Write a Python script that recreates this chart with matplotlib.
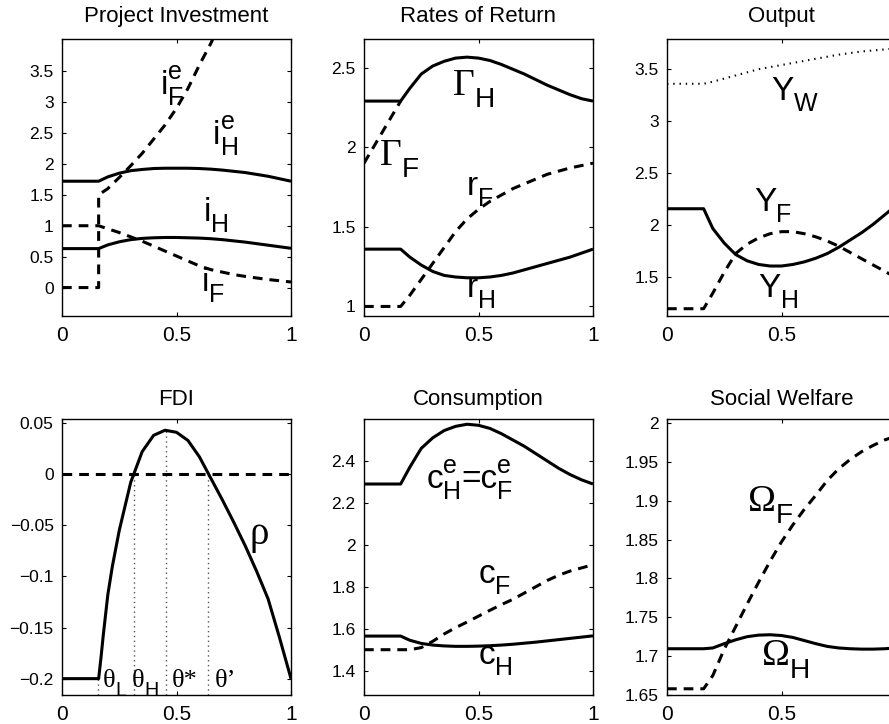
#!/usr/bin/env python3
# -*- coding: utf-8 -*-
"""
Six-panel comparative statics figure (MATLAB look):
investment, returns, output, FDI, consumption, welfare vs theta
"""

import matplotlib
matplotlib.use("Agg")
import matplotlib.pyplot as plt
from matplotlib.ticker import FixedLocator, FuncFormatter


# Common theta grid
THETA = [0.0, 0.16, 0.2, 0.25, 0.3, 0.35, 0.4, 0.45, 0.5, 0.55,
         0.6, 0.65, 0.7, 0.75, 0.8, 0.85, 0.9, 0.95, 1.0]

# Project Investment
I_HE = [1.72, 1.72, 1.79, 1.85, 1.89, 1.91, 1.925, 1.93, 1.93, 1.93,
        1.925, 1.915, 1.90, 1.88, 1.86, 1.83, 1.80, 1.76, 1.72]
I_H = [0.63, 0.63, 0.69, 0.74, 0.775, 0.795, 0.805, 0.81, 0.81, 0.805,
       0.80, 0.79, 0.775, 0.755, 0.735, 0.71, 0.685, 0.66, 0.635]
I_F = [1.0, 1.0, 0.95, 0.89, 0.82, 0.75, 0.67, 0.59, 0.51, 0.43,
       0.35, 0.29, 0.25, 0.21, 0.18, 0.155, 0.13, 0.11, 0.09]
IFE_THETA = [0.0, 0.16, 0.16, 0.2, 0.25, 0.3, 0.35, 0.4, 0.45, 0.5,
             0.55, 0.6, 0.65, 0.7]
I_FE = [0.0, 0.0, 1.5, 1.6, 1.78, 1.97, 2.17, 2.40, 2.63, 2.9,
        3.22, 3.6, 3.95, 4.35]

# Rates of Return
GAMMA_H = [2.29, 2.29, 2.37, 2.46, 2.51, 2.54, 2.56, 2.566, 2.56, 2.545,
           2.52, 2.49, 2.46, 2.425, 2.39, 2.36, 2.33, 2.305, 2.29]
GAMMA_F_THETA = [0.0, 0.16]
GAMMA_F = [1.9, 2.29]
R_F = [1.0, 1.0, 1.07, 1.17, 1.27, 1.37, 1.47, 1.55, 1.61, 1.66,
       1.70, 1.74, 1.77, 1.80, 1.83, 1.85, 1.87, 1.885, 1.90]
R_H = [1.36, 1.36, 1.31, 1.26, 1.22, 1.195, 1.185, 1.18, 1.18, 1.185,
       1.195, 1.21, 1.23, 1.25, 1.27, 1.29, 1.31, 1.335, 1.36]

# Output
Y_W = [3.36, 3.36, 3.38, 3.41, 3.44, 3.47, 3.50, 3.52, 3.54, 3.56,
       3.58, 3.60, 3.62, 3.64, 3.655, 3.67, 3.68, 3.69, 3.70]
Y_H = [2.16, 2.16, 1.97, 1.83, 1.72, 1.66, 1.625, 1.61, 1.61, 1.625,
       1.65, 1.685, 1.73, 1.79, 1.86, 1.93, 2.01, 2.10, 2.19]
Y_F = [1.2, 1.2, 1.35, 1.55, 1.73, 1.82, 1.88, 1.92, 1.94, 1.94,
       1.92, 1.89, 1.85, 1.80, 1.74, 1.68, 1.62, 1.56, 1.50]

# FDI
RHO_THETA = [0.0, 0.16, 0.17, 0.18, 0.2, 0.22, 0.25, 0.3, 0.35, 0.4, 0.45, 0.5,
             0.55, 0.6, 0.65, 0.7, 0.75, 0.8, 0.85, 0.9, 0.95, 1.0]
RHO = [-0.2, -0.2, -0.18, -0.158, -0.118, -0.09, -0.055, -0.008, 0.022, 0.038,
       0.043, 0.041, 0.033, 0.017, -0.004, -0.025, -0.047, -0.07, -0.095,
       -0.122, -0.16, -0.2]
THRESHOLDS = [0.158, 0.313, 0.453, 0.638]
THRESHOLD_TOPS = [-0.2, 0.0, 0.043, 0.0]

# Consumption
C_E = [2.29, 2.29, 2.37, 2.46, 2.51, 2.545, 2.565, 2.575, 2.57, 2.555,
       2.53, 2.50, 2.47, 2.435, 2.40, 2.365, 2.335, 2.31, 2.29]
C_F = [1.5, 1.5, 1.5, 1.51, 1.54, 1.575, 1.605, 1.632, 1.66, 1.688,
       1.715, 1.74, 1.77, 1.80, 1.83, 1.855, 1.875, 1.89, 1.905]
C_H = [1.565, 1.565, 1.545, 1.53, 1.522, 1.518, 1.516, 1.516, 1.517, 1.519,
       1.522, 1.526, 1.531, 1.536, 1.542, 1.548, 1.554, 1.56, 1.566]

# Social Welfare
OMEGA_H = [1.7095, 1.7095, 1.7105, 1.716, 1.721, 1.725, 1.727, 1.7275, 1.7265, 1.724,
           1.72, 1.716, 1.7125, 1.7105, 1.7095, 1.709, 1.709, 1.7095, 1.7105]
OMEGA_F = [1.658, 1.658, 1.675, 1.709, 1.738, 1.767, 1.795, 1.822, 1.847, 1.869,
           1.889, 1.907, 1.926, 1.941, 1.953, 1.963, 1.971, 1.978, 1.983]

X_TICKS = [0, 0.5, 1]

# Axes boxes in pixels (left, right) / (top, bottom) for a 889x724 canvas
FIG_W, FIG_H = 889, 724
COL_X = [(62, 291), (364, 593), (667, 896)]
ROW_Y = [(39, 316), (419, 695)]

SANS = 'Liberation Sans'
SERIF = 'Liberation Serif'
SOLID = dict(color='k', lw=2.2, solid_capstyle='butt')
DASHED = dict(color='k', lw=2.2, linestyle=(0, (7, 5)), dash_capstyle='butt')
LABEL_SIZE = 24
SUB_SCALE = 0.75
SUB_DROP = 0.33
SUP_RISE = 0.45


def setup_style():
    plt.rcParams['font.family'] = [SANS, 'DejaVu Sans']
    plt.rcParams['lines.scale_dashes'] = False
    plt.rcParams['axes.linewidth'] = 1.0


def fmt(v, _pos=None):
    return ('%g' % v).replace('-', '\u2212')


def make_axes(fig, col, row, title, ylim, yticks):
    x0, x1 = COL_X[col]
    y0, y1 = ROW_Y[row]
    ax = fig.add_axes([x0 / FIG_W, 1 - y1 / FIG_H, (x1 - x0) / FIG_W, (y1 - y0) / FIG_H])
    ax.set_xlim(0, 1)
    ax.set_ylim(*ylim)
    ax.xaxis.set_major_locator(FixedLocator(X_TICKS))
    ax.yaxis.set_major_locator(FixedLocator(yticks))
    if col == 2:
        # the right-hand "1" falls off the canvas in the original
        ax.xaxis.set_major_formatter(FuncFormatter(lambda v, p: '' if v == 1 else fmt(v)))
    else:
        ax.xaxis.set_major_formatter(FuncFormatter(fmt))
    ax.yaxis.set_major_formatter(FuncFormatter(fmt))
    ax.tick_params(direction='in', length=3, width=0.8, top=True, right=True)
    ax.tick_params(axis='x', labelsize=15, pad=7)
    ax.tick_params(axis='y', labelsize=12.5, pad=6)
    ax.set_title(title, fontsize=16, pad=12 if row == 0 else 10)
    return ax


def put_label(ax, x, y, parts, size=LABEL_SIZE):
    """Place base text with sub/superscripts, parts = [(base, sub, sup, family), ...]"""
    fig = ax.figure
    renderer = fig.canvas.get_renderer()
    off = 0.0
    for base, sub, sup, family in parts:
        t = ax.annotate(base, (x, y), xytext=(off, 0), textcoords='offset points',
                        fontsize=size, family=family, ha='left', va='baseline')
        off += t.get_window_extent(renderer).width * 72 / fig.dpi
        widths = [0.0]
        if sub:
            ts = ax.annotate(sub, (x, y), xytext=(off, -SUB_DROP * size),
                             textcoords='offset points', fontsize=SUB_SCALE * size,
                             family=SANS, ha='left', va='baseline')
            widths.append(ts.get_window_extent(renderer).width * 72 / fig.dpi)
        if sup:
            tp = ax.annotate(sup, (x, y), xytext=(off, SUP_RISE * size),
                             textcoords='offset points', fontsize=SUB_SCALE * size,
                             family=SANS, ha='left', va='baseline')
            widths.append(tp.get_window_extent(renderer).width * 72 / fig.dpi)
        off += max(widths)


def plot_investment(fig):
    ax = make_axes(fig, 0, 0, 'Project Investment', (-0.46, 4.02),
                   [0, 0.5, 1, 1.5, 2, 2.5, 3, 3.5])
    ax.plot(IFE_THETA, I_FE, **DASHED)
    ax.plot(THETA, I_F, **DASHED)
    ax.plot(THETA, I_HE, **SOLID)
    ax.plot(THETA, I_H, **SOLID)
    put_label(ax, 0.43, 3.13, [('i', 'F', 'e', SANS)])
    put_label(ax, 0.66, 2.32, [('i', 'H', 'e', SANS)])
    put_label(ax, 0.62, 1.08, [('i', 'H', '', SANS)])
    put_label(ax, 0.61, -0.05, [('i', 'F', '', SANS)])


def plot_returns(fig):
    ax = make_axes(fig, 1, 0, 'Rates of Return', (0.94, 2.68), [1, 1.5, 2, 2.5])
    ax.plot(GAMMA_F_THETA, GAMMA_F, **DASHED)
    ax.plot(THETA, R_F, **DASHED)
    ax.plot(THETA, GAMMA_H, **SOLID)
    ax.plot(THETA, R_H, **SOLID)
    put_label(ax, 0.39, 2.33, [('\u0393', 'H', '', SERIF)], size=27)
    put_label(ax, 0.07, 1.89, [('\u0393', 'F', '', SERIF)], size=27)
    put_label(ax, 0.45, 1.70, [('r', 'F', '', SANS)])
    put_label(ax, 0.45, 1.06, [('r', 'H', '', SANS)])


def plot_output(fig):
    ax = make_axes(fig, 2, 0, 'Output', (1.13, 3.79), [1.5, 2, 2.5, 3, 3.5])
    ax.plot(THETA, Y_W, color='k', lw=1.5, linestyle=(0, (1, 3.5)))
    ax.plot(THETA, Y_F, **DASHED)
    ax.plot(THETA, Y_H, **SOLID)
    put_label(ax, 0.456, 3.2, [('Y', 'W', '', SANS)])
    put_label(ax, 0.38, 2.14, [('Y', 'F', '', SANS)])
    put_label(ax, 0.40, 1.31, [('Y', 'H', '', SANS)])


def plot_fdi(fig):
    ax = make_axes(fig, 0, 1, 'FDI', (-0.216, 0.054),
                   [-0.2, -0.15, -0.1, -0.05, 0, 0.05])
    ymin = ax.get_ylim()[0]
    for th, top in zip(THRESHOLDS, THRESHOLD_TOPS):
        ax.plot([th, th], [ymin, top], color='#555555', lw=1.0,
                linestyle=(0, (1, 2.5)))
    ax.plot([0, 1], [0, 0], **DASHED)
    ax.plot(RHO_THETA, RHO, **SOLID)
    put_label(ax, 0.82, -0.068, [('\u03c1', '', '', SERIF)], size=28)
    base_y = -0.208
    put_label(ax, 0.177, base_y, [('\u03b8', 'L', '', SERIF)], size=19)
    put_label(ax, 0.306, base_y, [('\u03b8', 'H', '', SERIF)], size=19)
    put_label(ax, 0.478, base_y, [('\u03b8*', '', '', SERIF)], size=19)
    put_label(ax, 0.668, base_y, [('\u03b8\u2019', '', '', SERIF)], size=19)


def plot_consumption(fig):
    ax = make_axes(fig, 1, 1, 'Consumption', (1.284, 2.6),
                   [1.4, 1.6, 1.8, 2, 2.2, 2.4])
    ax.plot(THETA, C_F, **DASHED)
    ax.plot(THETA, C_E, **SOLID)
    ax.plot(THETA, C_H, **SOLID)
    put_label(ax, 0.274, 2.27, [('c', 'H', 'e', SANS), ('=c', 'F', 'e', SANS)])
    put_label(ax, 0.5, 1.82, [('c', 'F', '', SANS)])
    put_label(ax, 0.5, 1.43, [('c', 'H', '', SANS)])


def plot_welfare(fig):
    ax = make_axes(fig, 2, 1, 'Social Welfare', (1.65, 2.005),
                   [1.65, 1.7, 1.75, 1.8, 1.85, 1.9, 1.95, 2])
    ax.plot(THETA, OMEGA_F, **DASHED)
    ax.plot(THETA, OMEGA_H, **SOLID)
    put_label(ax, 0.354, 1.887, [('\u03a9', 'F', '', SERIF)], size=27)
    put_label(ax, 0.414, 1.688, [('\u03a9', 'H', '', SERIF)], size=27)


def main():
    setup_style()
    fig = plt.figure(figsize=(FIG_W / 100, FIG_H / 100), dpi=100)
    plot_investment(fig)
    plot_returns(fig)
    plot_output(fig)
    plot_fdi(fig)
    plot_consumption(fig)
    plot_welfare(fig)
    fig.savefig('out.png', dpi=100)
    plt.close(fig)
    print("[Saved] out.png")


if __name__ == "__main__":
    main()
